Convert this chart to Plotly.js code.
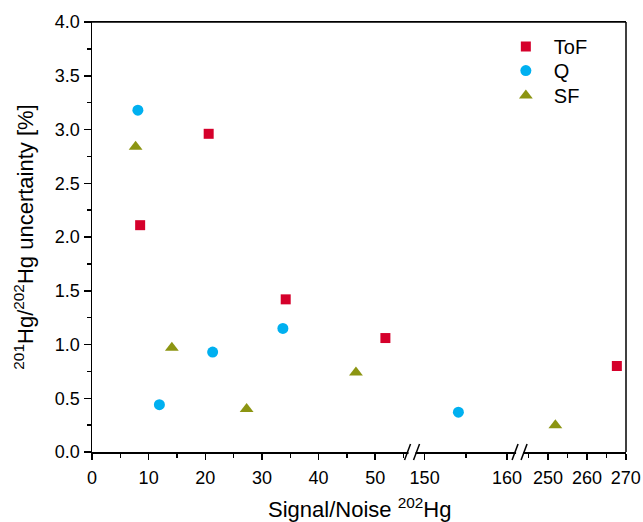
<!DOCTYPE html>
<html>
<head>
<meta charset="utf-8">
<script src="https://cdn.plot.ly/plotly-3.0.1.min.js"></script>
<style>html,body{margin:0;padding:0;background:#fff;}#chart{width:643px;height:522px;}</style>
</head>
<body>
<div id="chart"></div>
<script>
// ---- data ----
const seriesNames = ["ToF", "Q", "SF"];
const tofX = [8.5, 20.6, 34.2, 51.8, 267.7];
const tofY = [2.11, 2.96, 1.42, 1.06, 0.80];
const qX = [8.1, 11.9, 21.3, 33.7, 154.1];
const qY = [3.18, 0.44, 0.93, 1.15, 0.37];
const sfX = [7.7, 14.1, 27.3, 46.6, 251.9];
const sfY = [2.84, 0.97, 0.40, 0.74, 0.25];
const yTickVals = [0, 0.5, 1, 1.5, 2, 2.5, 3, 3.5, 4];

// ---- broken x axis segments ----
const segments = [
  {axis: "x",  key: "xaxis",  range: [0, 56.5],        domain: [0, 0.5993]},
  {axis: "x2", key: "xaxis2", range: [148.47, 161.53], domain: [0.5993, 0.8007]},
  {axis: "x3", key: "xaxis3", range: [242.7, 270.05],  domain: [0.8007, 1]}
];

const styles = {
  ToF: {symbol: "square", color: "#D5002B", size: 10, legend: "legend",  ly: 0.9433},
  Q:   {symbol: "circle", color: "#00B0F0", size: 11, legend: "legend2", ly: 0.8870},
  SF:  {symbol: "triangle-up", color: "#8C9512", size: 12, legend: "legend3", ly: 0.8288}
};
const seriesData = {ToF: [tofX, tofY], Q: [qX, qY], SF: [sfX, sfY]};

const traces = [];
seriesNames.forEach(name => {
  const [xs, ys] = seriesData[name];
  let first = true;
  segments.forEach(seg => {
    const px = [], py = [];
    xs.forEach((v, i) => {
      if (v >= seg.range[0] && v <= seg.range[1]) { px.push(v); py.push(ys[i]); }
    });
    if (!px.length) return;
    traces.push({
      type: "scatter", mode: "markers", name: name, legendgroup: name, legend: styles[name].legend,
      showlegend: first, x: px, y: py, xaxis: seg.axis, yaxis: "y",
      marker: {symbol: styles[name].symbol, color: styles[name].color, size: styles[name].size, line: {width: 0}},
      hoverinfo: "x+y"
    });
    first = false;
  });
});

const FONT = "Liberation Sans, Arial, sans-serif";
const LW = 1.5;
const axisCommon = {
  showline: true, linecolor: "#000", linewidth: LW, mirror: true,
  ticks: "outside", ticklen: 6, tickwidth: LW, tickcolor: "#000", ticklabelstandoff: 3,
  showgrid: false, zeroline: false, tickmode: "linear", dtick: 10,
  tickfont: {family: FONT, size: 18, color: "#000"},
  minor: {ticks: "outside", ticklen: 4, tickwidth: LW, tickcolor: "#000", dtick: 5, showgrid: false}
};

const legendBase = {x: 0.76, xanchor: "left", yanchor: "middle", bgcolor: "rgba(0,0,0,0)",
  font: {family: FONT, size: 20, color: "#000"}, itemwidth: 46, borderwidth: 0};

const layout = {
  width: 643, height: 522,
  margin: {l: 92, r: 17, t: 22, b: 70},
  paper_bgcolor: "#fff", plot_bgcolor: "#fff",
  font: {family: FONT, color: "#000"},
  showlegend: true,
  legend:  Object.assign({}, legendBase, {y: styles.ToF.ly}),
  legend2: Object.assign({}, legendBase, {y: styles.Q.ly}),
  legend3: Object.assign({}, legendBase, {y: styles.SF.ly}),
  yaxis: {
    domain: [0, 1], anchor: "x", range: [0, 4], tickmode: "array", tickvals: yTickVals, tickformat: ".1f",
    showline: true, linecolor: "#000", linewidth: LW, mirror: false,
    ticks: "outside", ticklen: 7, tickwidth: LW, tickcolor: "#000",
    showgrid: false, zeroline: false,
    tickfont: {family: FONT, size: 18, color: "#000"},
    minor: {ticks: "outside", ticklen: 4, tickwidth: LW, tickcolor: "#000", dtick: 0.25, tick0: 0, showgrid: false},
    title: {text: "<sup>201</sup>Hg/<sup>202</sup>Hg uncertainty [%]", font: {family: FONT, size: 22, color: "#000"}, standoff: 15}
  },
  annotations: [{
    text: "Signal/Noise <sup>202</sup>Hg", xref: "paper", yref: "paper", x: 0.5, y: 0,
    xanchor: "center", yanchor: "middle", yshift: -56, showarrow: false,
    font: {family: FONT, size: 22, color: "#000"}
  }],
  shapes: []
};

segments.forEach(seg => {
  layout[seg.key] = Object.assign({}, axisCommon, {
    domain: seg.domain, anchor: "y", range: seg.range, tick0: seg.range[0] < 1 ? 0 : Math.ceil(seg.range[0] / 10) * 10
  });
  layout[seg.key].minor = Object.assign({}, axisCommon.minor, {tick0: layout[seg.key].tick0});
});

// frame lines (top and right)
layout.shapes.push({type: "line", xref: "paper", yref: "paper", x0: 1, x1: 1, y0: 0, y1: 1,
  line: {color: "#000", width: LW}, layer: "above"});
layout.shapes.push({type: "line", xref: "paper", yref: "paper", x0: 0, x1: 1, y0: 1, y1: 1,
  line: {color: "#000", width: LW}, layer: "above"});

// axis break marks
[segments[1].domain[0], segments[2].domain[0]].forEach(xb => {
  layout.shapes.push({type: "rect", xref: "paper", yref: "paper", xsizemode: "pixel", ysizemode: "pixel",
    xanchor: xb, yanchor: 0, x0: -3.5, x1: 3.5, y0: -2, y1: 2, fillcolor: "#fff", line: {width: 0}, layer: "above"});
  [[-7.5, -1.5], [1.5, 7.5]].forEach(([a, b]) => {
    layout.shapes.push({type: "line", xref: "paper", yref: "paper", xsizemode: "pixel", ysizemode: "pixel",
      xanchor: xb, yanchor: 0, x0: a, x1: b, y0: -8, y1: 8, line: {color: "#000", width: LW}, layer: "above"});
  });
});

Plotly.newPlot("chart", traces, layout, {displayModeBar: false, staticPlot: true});
</script>
</body>
</html>
